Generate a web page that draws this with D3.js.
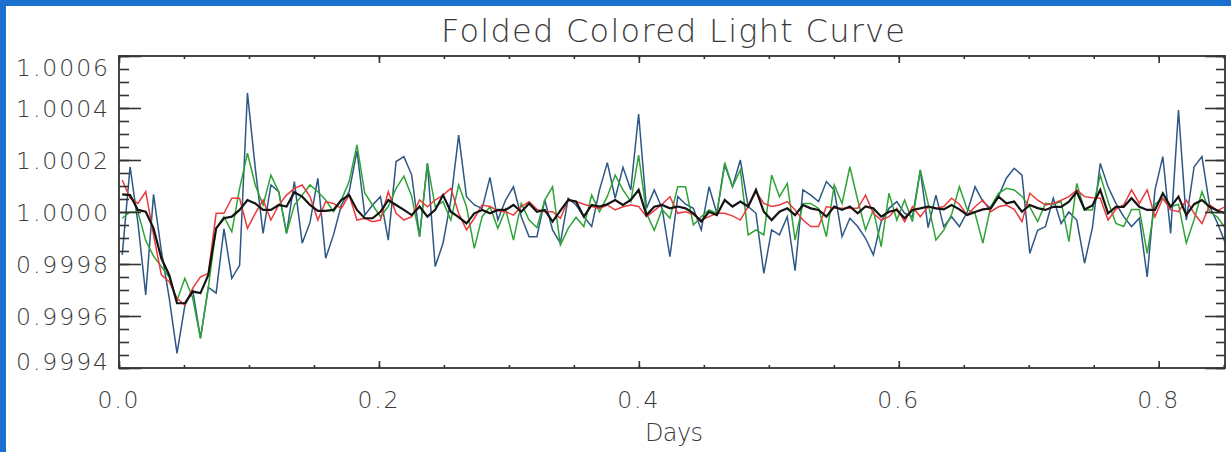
<!DOCTYPE html>
<html>
<head>
<meta charset="utf-8">
<script src="https://cdn.jsdelivr.net/npm/d3@7"></script>
<style>
  html, body { margin: 0; padding: 0; background: #ffffff; }
  svg { display: block; }
  text { font-family: "DejaVu Sans", "Liberation Sans", sans-serif; fill: #3a3a3a; font-weight: 200; }
</style>
</head>
<body>
<svg id="chart" width="1231" height="452"></svg>
<script>
// Folded light curve: relative flux in three colour bands plus their mean,
// binned in orbital phase (days). Values are deviations from 1 in parts per million.
const phaseStart = 0.0025;   // days, centre of first bin
const phaseStep = 0.00602;   // days per bin

const bluePpm = [
  -165, 174, -40, -319, 68, -150, -330, -544, -360, -300,
  -485, -290, -312, -65, -255, -205, 458, 170, -82, 104,
  78, -82, 117, -120, -40, 130, -178, -88, 27, 78,
  235, -12, 27, 59, -108, 194, 213, 142, -95, 187,
  -210, -120, 46, 296, 59, 27, 14, 133, -31, 46,
  97, -18, -95, -95, 46, -69, -120, 53, 27, -18,
  -56, 85, 190, 53, 172, 85, 377, 14, 85, 14,
  -172, 59, 30, 14, -69, 97, -5, 181, 97, 200,
  21, -5, -236, -69, -88, -18, -226, 85, 65, 40,
  117, 85, -95, -24, -56, -101, -165, -37, 14, 40,
  -5, -18, 160, -60, 65, -56, -18, -56, 0, 97,
  40, 14, 60, 130, 168, 142, -159, -70, -56, 53,
  -44, 0, -31, -197, -60, 187, 97, 33, -18, -56,
  -24, -250, 85, 213, -82, 392, -31, 174, 213, 21,
  -44, -120
];

const greenPpm = [
  -24, 0, 0, -110, -170, -210, -250, -340, -255, -330,
  -486, -290, -63, -18, -76, 91, 226, 104, 27, 142,
  78, -82, 27, 65, 104, 78, 46, 1, 46, 117,
  258, 72, 27, -18, 21, 91, 138, 60, -95, 187,
  21, 40, -31, 104, 20, -140, -18, 20, -63, 10,
  -108, 33, -31, -60, 46, 97, -127, -63, -20, -56,
  65, 1, 60, 142, 85, 40, 219, -5, -70, 10,
  -24, 97, 97, -50, -18, 8, -5, 190, 97, 162,
  -88, -69, -88, 142, 59, 110, -108, 33, 33, 14,
  -95, 104, 33, 174, 46, -69, 8, -133, 72, -31,
  46, -37, 162, 33, -108, -70, -10, 97, 10, -5,
  -120, 20, 72, 91, 85, 60, 20, -37, 33, 30,
  40, -114, 110, 8, 8, 142, 40, -44, -56, 10,
  10, -159, 30, 53, 20, 30, -120, -30, 78, 1,
  -20, -63
];

const redPpm = [
  123, 53, 33, 78, -88, -242, -268, -332, -358, -294,
  -249, -236, -5, -5, 53, 53, -63, -5, 46, -31,
  27, 65, 91, 104, 59, -31, 40, 33, 14, 65,
  -31, -24, -37, -31, 78, -5, -31, -18, 46, 20,
  46, 65, 91, -5, -69, -24, 27, 21, 5, 1,
  -12, 21, 40, 10, 1, 1, -24, 46, 40, 30,
  21, 14, 27, 8, 20, 27, 21, -18, 5, 30,
  59, -5, 1, -10, -31, -18, -5, -5, -15, -31,
  21, 78, 33, 21, 27, 40, 8, -31, -56, -56,
  21, 14, 14, 14, 14, 65, -5, -31, -18, 14,
  -37, 21, -18, 21, 14, 21, 53, 30, -12, 20,
  46, 1, 20, 27, 10, -37, 72, 46, 27, 33,
  45, 59, 85, 59, 55, 53, -31, 10, 27, 85,
  33, 85, -18, 53, 8, 1, 46, -5, -44, 27,
  5, 21
];

const meanPpm = [
  68, 65, 8, 1, -63, -178, -242, -351, -351, -306,
  -312, -242, -63, -24, -18, 8, 46, 33, 8, 8,
  27, 21, 76, 59, 27, 4, 4, 8, 46, 65,
  8, -24, -24, 1, 46, 27, 8, -12, 21, -18,
  8, 65, 1, -20, -44, -5, 8, -5, 8, 8,
  27, 1, 33, 1, 8, -37, 5, 46, 40, -18,
  27, 21, 30, 46, 27, 46, 85, -12, 20, 27,
  14, 21, 14, -5, -37, 1, -12, 46, 21, 40,
  21, 85, 1, -31, 1, 14, -12, 27, 14, 8,
  -18, 21, 8, 21, -5, 21, 14, -18, 1, 8,
  -24, 8, 14, 21, 14, 10, 27, 10, -12, 0,
  10, 14, 59, 33, 40, 1, 27, 15, 8, 20,
  20, 40, 78, 10, 25, 85, -5, 20, 20, 53,
  20, 8, 8, 72, 20, 59, -12, 30, 46, 20,
  5, -5
];

const yMajorTicks = [0.9994, 0.9996, 0.9998, 1.0000, 1.0002, 1.0004, 1.0006];
const xMajorTicks = [0.0, 0.2, 0.4, 0.6, 0.8];

const titleText = "Folded Colored Light Curve";
const xTitle = "Days";

const series = [
  { name: "blue",  ppm: bluePpm,  color: "#2d5885", width: 1.5 },
  { name: "green", ppm: greenPpm, color: "#2fa335", width: 1.5 },
  { name: "red",   ppm: redPpm,   color: "#ea3a3c", width: 1.5 },
  { name: "mean",  ppm: meanPpm,  color: "#141414", width: 2.2 }
];

const W = 1231, H = 452;
const plot = { left: 119, right: 1225, top: 56, bottom: 368 };

const svg = d3.select("#chart");

// page background and frame strip
svg.append("rect").attr("x", 0).attr("y", 0).attr("width", W).attr("height", H).attr("fill", "#ffffff");
svg.append("rect").attr("x", 0).attr("y", 0).attr("width", W).attr("height", 6).attr("fill", "#1a6fcf");
svg.append("rect").attr("x", 0).attr("y", 0).attr("width", 6).attr("height", H).attr("fill", "#1a6fcf");

const x = d3.scaleLinear().domain([0, 0.851]).range([plot.left, plot.right]);
const y = d3.scaleLinear().domain([0.9994, 1.0006]).range([plot.bottom, plot.top]);

const toFlux = p => 1 + p * 1e-6;
const phaseAt = i => phaseStart + i * phaseStep;

svg.append("clipPath").attr("id", "plotClip")
  .append("rect")
  .attr("x", plot.left).attr("y", plot.top)
  .attr("width", plot.right - plot.left).attr("height", plot.bottom - plot.top);

const line = d3.line()
  .x((d, i) => x(phaseAt(i)))
  .y(d => y(toFlux(d)));

const lines = svg.append("g").attr("clip-path", "url(#plotClip)");
series.forEach(s => {
  lines.append("path")
    .datum(s.ppm)
    .attr("fill", "none")
    .attr("stroke", s.color)
    .attr("stroke-width", s.width)
    .attr("stroke-linejoin", "miter")
    .attr("d", line);
});

// axes: ticks point into the plot on all four sides
const axisColor = "#333";
const yMinor = d3.range(0, 25).map(k => 0.9994 + k * 0.00005).filter(v => v <= 1.00060001);
const xMinor = d3.range(0, 18).map(k => k * 0.05).filter(v => v <= 0.851);

function styleAxis(g) {
  g.select(".domain").remove();
  g.selectAll(".tick line").attr("stroke", axisColor).attr("stroke-width", 1.6);
  g.selectAll(".tick text").remove();
}

svg.append("g").attr("transform", `translate(${plot.left},0)`)
  .call(d3.axisLeft(y).tickValues(yMinor).tickSize(-10).tickFormat(""))
  .call(styleAxis);
svg.append("g").attr("transform", `translate(${plot.left},0)`)
  .call(d3.axisLeft(y).tickValues(yMajorTicks).tickSize(-22).tickFormat(""))
  .call(styleAxis);
svg.append("g").attr("transform", `translate(${plot.right},0)`)
  .call(d3.axisRight(y).tickValues(yMinor).tickSize(-9).tickFormat(""))
  .call(styleAxis);
svg.append("g").attr("transform", `translate(${plot.right},0)`)
  .call(d3.axisRight(y).tickValues(yMajorTicks).tickSize(-20).tickFormat(""))
  .call(styleAxis);

svg.append("g").attr("transform", `translate(0,${plot.bottom})`)
  .call(d3.axisBottom(x).tickValues(xMinor).tickSize(-3).tickFormat(""))
  .call(styleAxis);
svg.append("g").attr("transform", `translate(0,${plot.bottom})`)
  .call(d3.axisBottom(x).tickValues(xMajorTicks).tickSize(-7).tickFormat(""))
  .call(styleAxis);
svg.append("g").attr("transform", `translate(0,${plot.top})`)
  .call(d3.axisTop(x).tickValues(xMinor).tickSize(-3).tickFormat(""))
  .call(styleAxis);
svg.append("g").attr("transform", `translate(0,${plot.top})`)
  .call(d3.axisTop(x).tickValues(xMajorTicks).tickSize(-7).tickFormat(""))
  .call(styleAxis);

// frame
svg.append("rect")
  .attr("x", plot.left).attr("y", plot.top)
  .attr("width", plot.right - plot.left).attr("height", plot.bottom - plot.top)
  .attr("fill", "none").attr("stroke", axisColor).attr("stroke-width", 1.8);

// y tick labels (end labels nudged inside the axis span)
const fmtY = d3.format(".4f");
svg.append("g").selectAll("text")
  .data(yMajorTicks)
  .join("text")
  .attr("x", 108)
  .attr("y", (d, i) => {
    let c = y(d);
    if (i === 0) c -= 7;
    if (i === yMajorTicks.length - 1) c += 11;
    return c + 8.5;
  })
  .attr("text-anchor", "end")
  .attr("font-size", 23.5)
  .attr("textLength", 92)
  .attr("lengthAdjust", "spacing")
  .text(d => fmtY(d));

// x tick labels
const fmtX = d3.format(".1f");
svg.append("g").selectAll("text")
  .data(xMajorTicks)
  .join("text")
  .attr("x", d => x(d) - 1)
  .attr("y", 408)
  .attr("text-anchor", "middle")
  .attr("font-size", 23.5)
  .attr("textLength", 41)
  .attr("lengthAdjust", "spacing")
  .text(d => fmtX(d));

// titles
svg.append("text")
  .attr("x", 673).attr("y", 42)
  .attr("text-anchor", "middle")
  .attr("font-size", 32)
  .attr("textLength", 464)
  .attr("lengthAdjust", "spacing")
  .text(titleText);

svg.append("text")
  .attr("x", 674).attr("y", 441)
  .attr("text-anchor", "middle")
  .attr("font-size", 24)
  .attr("textLength", 58)
  .attr("lengthAdjust", "spacing")
  .text(xTitle);
</script>
</body>
</html>
